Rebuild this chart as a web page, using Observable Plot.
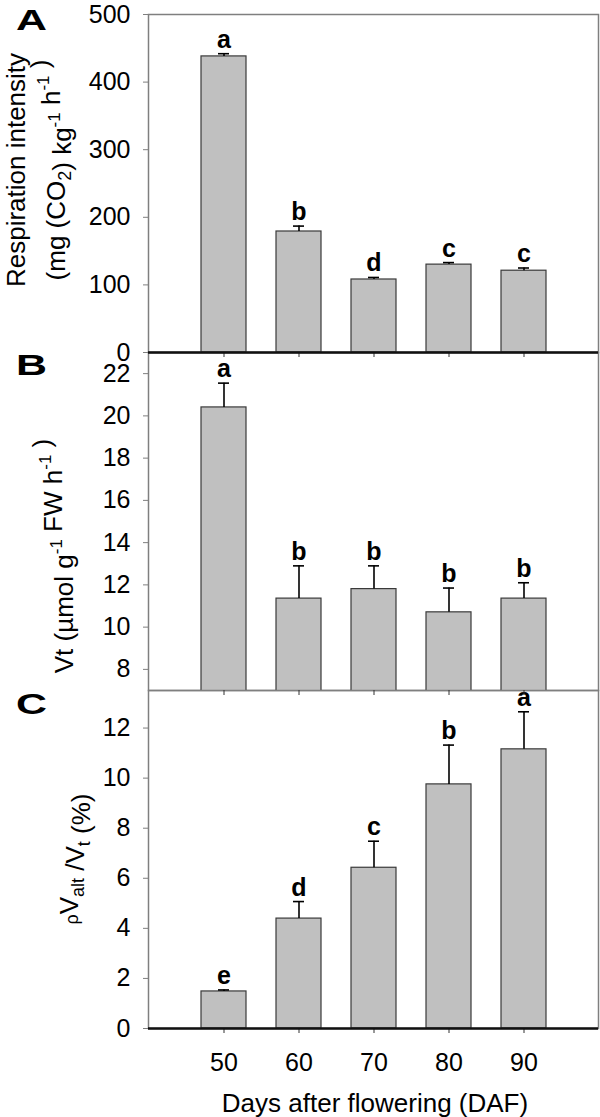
<!DOCTYPE html>
<html><head><meta charset="utf-8">
<script src="https://cdn.jsdelivr.net/npm/d3@7"></script>
<script src="https://cdn.jsdelivr.net/npm/@observablehq/plot@0.6"></script>
<style>
body{margin:0;background:#fff;}
#wrap{position:relative;width:600px;height:1117px;font-family:"Liberation Sans",Arial,sans-serif;}
#wrap svg{position:absolute;left:0;overflow:visible;}
</style></head><body><div id="wrap"></div>
<script>
// ---- data ----
const days = [50, 60, 70, 80, 90];
const respiration = [438, 179, 108, 130, 121];
const respirationErr = [442, 187, 111, 133, 125];
const respirationSig = ["a", "b", "d", "c", "c"];
const vt = [20.4, 11.35, 11.8, 10.7, 11.35];
const vtErr = [21.55, 12.9, 12.9, 11.85, 12.1];
const vtSig = ["a", "b", "b", "b", "b"];
const ratio = [1.48, 4.39, 6.42, 9.75, 11.15];
const ratioErr = [1.54, 5.07, 7.48, 11.32, 12.65];
const ratioSig = ["e", "d", "c", "b", "a"];
const respDomain = [0, 500], respTicks = [0, 100, 200, 300, 400, 500];
const vtDomain = [7, 23], vtTicks = [8, 10, 12, 14, 16, 18, 20, 22];
const ratioDomain = [0, 13.5], ratioTicks = [0, 2, 4, 6, 8, 10, 12];

const FONT = '"Liberation Sans", Arial, Helvetica, sans-serif';
const wrap = document.getElementById("wrap");

function panel(o) {
  const data = days.map((d, i) => ({day: d, v: o.values[i], e: o.errs[i], s: o.sigs[i]}));
  const marks = [
    Plot.barY(data, {x: "day", y: "v", fill: "#c0c0c0", stroke: "#3a3a3a", strokeWidth: 1.2, clip: true}),
    Plot.ruleX(data, {x: "day", y1: "v", y2: "e", stroke: "#000", strokeWidth: 1.6}),
    Plot.tickY(data, {x: "day", y: "e", stroke: "#000", strokeWidth: 1.6, insetLeft: 17, insetRight: 17}),
    Plot.text(data, {x: "day", y: "e", text: "s", dy: -6, lineAnchor: "bottom", fontWeight: "bold", fontSize: 25, fill: "#000"}),
    Plot.frame({stroke: "#7f7f7f", strokeWidth: 1.5}),
    Plot.axisY({ticks: o.ticks, tickSize: 5, tickFormat: () => "", stroke: "#7f7f7f", label: null}),
    Plot.axisY({ticks: o.ticks, tickSize: 0, tickPadding: 18, label: null, fill: "#000"}),
    Plot.axisX({tickSize: 5, tickPadding: 20, label: null, stroke: "#333",
      tickFormat: o.showX ? (d => String(d)) : (() => "")})
  ];
  if (o.bottomLine) marks.push(Plot.ruleY([o.domain[0]], {stroke: "#111", strokeWidth: 2.5}));
  const svg = Plot.plot({
    width: 600, height: o.height,
    marginLeft: 148, marginRight: 2, marginTop: o.marginTop, marginBottom: o.marginBottom,
    style: {fontFamily: FONT, fontSize: "25px", background: "transparent", overflow: "visible", color: "#000"},
    x: {type: "band", domain: days, paddingInner: 0.4, paddingOuter: 0.7},
    y: {domain: o.domain},
    marks
  });
  svg.style.top = o.top + "px";
  svg.style.zIndex = o.z;
  wrap.appendChild(svg);
}

panel({values: respiration, errs: respirationErr, sigs: respirationSig, domain: respDomain, ticks: respTicks,
  top: 0, height: 362, marginTop: 14, marginBottom: 10, bottomLine: true, showX: false, z: 3});
panel({values: vt, errs: vtErr, sigs: vtSig, domain: vtDomain, ticks: vtTicks,
  top: 352, height: 348, marginTop: 0, marginBottom: 10, bottomLine: false, showX: false, z: 2});
panel({values: ratio, errs: ratioErr, sigs: ratioSig, domain: ratioDomain, ticks: ratioTicks,
  top: 690, height: 427, marginTop: 0, marginBottom: 89, bottomLine: true, showX: true, z: 1});

// ---- overlay text: panel letters and axis titles ----
const ov = d3.select(wrap).append("svg")
  .attr("width", 600).attr("height", 1117)
  .style("top", "0px").style("z-index", 10).style("pointer-events", "none")
  .attr("font-family", FONT).attr("fill", "#000");

[["A", 30], ["B", 375], ["C", 714]].forEach(([t, y]) =>
  ov.append("text").attr("x", 16).attr("y", y).attr("font-size", 29).attr("font-weight", "bold")
    .attr("textLength", 31).attr("lengthAdjust", "spacingAndGlyphs").text(t));

function rich(x, y, parts, size) {
  const t = ov.append("text").attr("transform", `translate(${x},${y}) rotate(-90)`)
    .attr("text-anchor", "middle").attr("font-size", size);
  parts.forEach(p => {
    const [txt, kind] = Array.isArray(p) ? p : [p, "n"];
    const s = t.append("tspan").text(txt);
    if (kind === "sup") s.attr("font-size", 17).attr("dy", -11);
    else if (kind === "sub") s.attr("font-size", 18).attr("dy", 6);
    else if (kind === "small") s.attr("font-size", 18);
    if (kind === "sup") t.append("tspan").attr("dy", 11).text("");
    if (kind === "sub") t.append("tspan").attr("dy", -6).text("");
  });
  return t;
}

rich(25, 170, ["Respiration intensity"], 26);
rich(64.5, 170, ["(mg (CO", ["2", "sub"], ") kg", ["-1", "sup"], " h", ["-1", "sup"], " )"], 26);
rich(73, 556, ["Vt (\u00b5mol g", ["-1", "sup"], " FW h", ["-1", "sup"], " )"], 26);
rich(78, 859, [["\u03c1", "small"], "V", ["alt", "sub"], " /V", ["t", "sub"], " (%)"], 26);

ov.append("text").attr("x", 375).attr("y", 1112).attr("text-anchor", "middle")
  .attr("font-size", 26).text("Days after flowering (DAF)");
</script></body></html>
